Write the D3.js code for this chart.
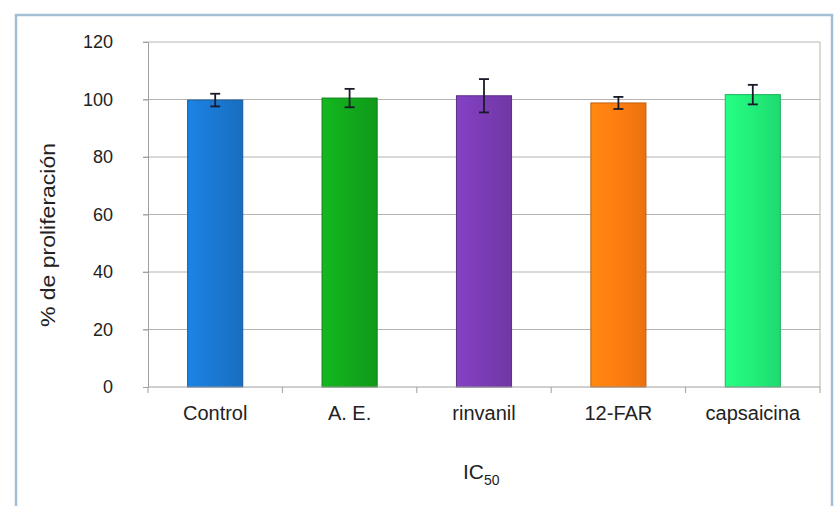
<!DOCTYPE html>
<html><head><meta charset="utf-8">
<script src="https://cdn.jsdelivr.net/npm/d3@7"></script>
<style>body{margin:0;background:#fff}svg{display:block}</style>
</head><body>
<svg id="c" width="837" height="506"></svg>
<script>
const categories = ["Control", "A. E.", "rinvanil", "12-FAR", "capsaicina"];
const values = [99.8, 100.5, 101.3, 98.8, 101.7];
const errors = [2.2, 3.2, 5.8, 2.1, 3.4];
const colors = ["#1a78d2", "#12a81c", "#7a3cb4", "#ff7d10", "#22ee7a"];
const yTicks = [0, 20, 40, 60, 80, 100, 120];

const FONT = "Liberation Sans, Arial, sans-serif";
const svg = d3.select("#c");
const W = 837, H = 506;
const m = {left: 148, right: 17, top: 42, bottom: 119};
const x = d3.scaleBand().domain(categories).range([m.left, W - m.right]).paddingInner(0.59).paddingOuter(0.295);
const y = d3.scaleLinear().domain([0, 120]).range([H - m.bottom, m.top]);

// outer frame (bottom edge falls outside the picture)
svg.append("rect").attr("x", 16).attr("y", 15).attr("width", 816).attr("height", 510)
  .attr("fill", "#fff").attr("stroke", "#a4bed6").attr("stroke-width", 2.5);

const defs = svg.append("defs");
colors.forEach((c, i) => {
  const g = defs.append("linearGradient").attr("id", "g" + i).attr("x1", 0).attr("x2", 1);
  g.append("stop").attr("offset", "0%").attr("stop-color", d3.color(c).brighter(0.25));
  g.append("stop").attr("offset", "50%").attr("stop-color", c);
  g.append("stop").attr("offset", "100%").attr("stop-color", d3.color(c).darker(0.25));
});

// gridlines
svg.append("g").selectAll("line").data(yTicks.filter(t => t > 0)).join("line")
  .attr("x1", m.left - 5).attr("x2", W - m.right)
  .attr("y1", d => y(d)).attr("y2", d => y(d))
  .attr("stroke", "#b4b4b4").attr("stroke-width", 1);

// plot frame right
svg.append("line").attr("x1", W - m.right).attr("x2", W - m.right).attr("y1", m.top).attr("y2", y(0))
  .attr("stroke", "#b4b4b4");

// y axis
const ya = svg.append("g").attr("transform", `translate(${m.left},0)`)
  .call(d3.axisLeft(y).tickValues(yTicks).tickSize(5).tickPadding(30));
ya.select(".domain").attr("stroke", "#a0a0a0");
ya.selectAll(".tick line").attr("stroke", "#a0a0a0");
ya.selectAll("text").attr("font-family", FONT).attr("font-size", 18).attr("fill", "#222");

// bars
svg.append("g").selectAll("rect").data(categories).join("rect")
  .attr("x", d => x(d)).attr("width", x.bandwidth())
  .attr("y", (d, i) => y(values[i])).attr("height", (d, i) => y(0) - y(values[i]))
  .attr("fill", (d, i) => `url(#g${i})`)
  .attr("stroke", (d, i) => d3.color(colors[i]).darker(0.8)).attr("stroke-width", 1);

// error bars
const eb = svg.append("g").attr("stroke", "#1a1a2a").attr("stroke-width", 1.8);
categories.forEach((d, i) => {
  const cx = x(d) + x.bandwidth() / 2;
  eb.append("line").attr("x1", cx).attr("x2", cx).attr("y1", y(values[i] + errors[i])).attr("y2", y(values[i] - errors[i]));
  [values[i] + errors[i], values[i] - errors[i]].forEach(v =>
    eb.append("line").attr("x1", cx - 5).attr("x2", cx + 5).attr("y1", y(v)).attr("y2", y(v)));
});

// x axis
const xa = svg.append("g").attr("transform", `translate(0,${y(0)})`);
xa.append("line").attr("x1", m.left).attr("x2", W - m.right).attr("stroke", "#a0a0a0");
const bounds = d3.range(categories.length + 1).map(i => m.left + i * (W - m.left - m.right) / categories.length);
xa.selectAll(".tk").data(bounds).join("line").attr("class", "tk")
  .attr("x1", d => d).attr("x2", d => d).attr("y1", 0).attr("y2", 6).attr("stroke", "#a0a0a0");
xa.selectAll("text").data(categories).join("text")
  .attr("x", d => x(d) + x.bandwidth() / 2).attr("y", 33)
  .attr("text-anchor", "middle").attr("font-family", FONT)
  .attr("font-size", 20).attr("fill", "#222").text(d => d);

// axis titles
const xt = svg.append("text").attr("x", 463).attr("y", 479)
  .attr("font-family", FONT).attr("font-size", 21).attr("fill", "#222");
xt.append("tspan").text("IC");
xt.append("tspan").attr("font-size", 14).attr("dy", 6).text("50");

svg.append("text").attr("transform", "translate(55,235) rotate(-90)").attr("text-anchor", "middle")
  .attr("font-family", FONT).attr("font-size", 20).attr("fill", "#222")
  .attr("textLength", 184).attr("lengthAdjust", "spacingAndGlyphs")
  .text("% de proliferación");
</script>
</body></html>
